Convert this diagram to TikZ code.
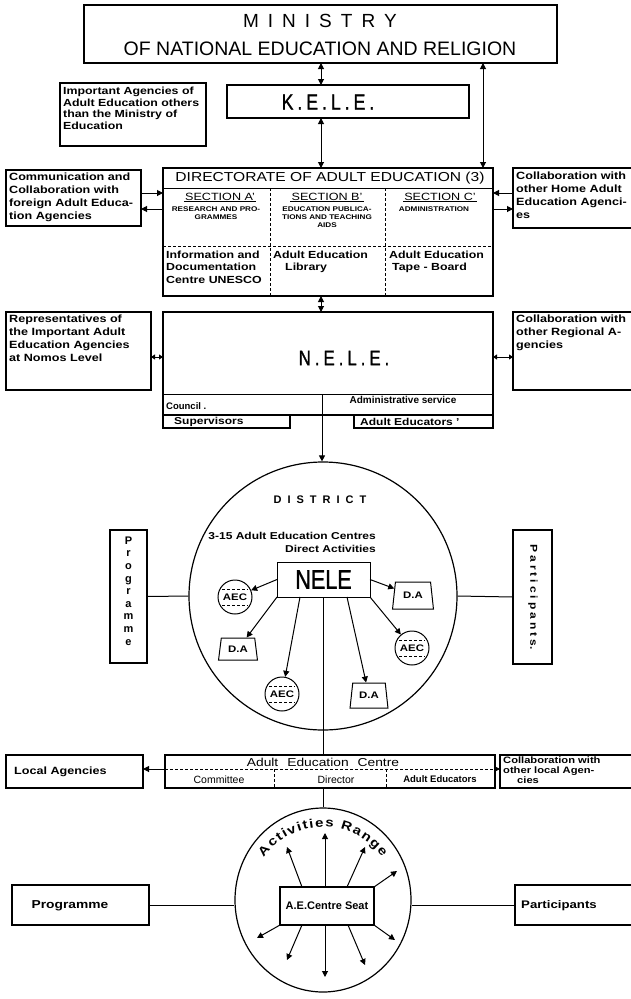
\documentclass[tikz,border=0pt]{standalone}
\usepackage{fontspec}
\setmainfont{Liberation Sans}
\newfontfamily\widefont{Liberation Sans}[FakeStretch=1.2]
\newfontfamily\narrowfont{Liberation Sans}[FakeStretch=0.75]
\newfontfamily\letterfont{Liberation Sans}[FakeStretch=0.8,FakeBold=1.2]
\usetikzlibrary{arrows.meta,shapes.geometric,decorations.text,calc}
\newcommand{\fsz}[2]{\fontsize{#1}{#2}\selectfont}
\newcommand{\kgap}{\hspace{9pt}}
\newcommand{\egap}{\hspace{4pt}}
\newcommand{\dgap}{\hspace{6pt}}
\newcommand{\pgap}{\hspace{3pt}}
\begin{document}
\begin{tikzpicture}[x=1pt,y=-1pt,
  box/.style={draw,line width=1.1pt,inner sep=0pt,outer sep=0pt},
  conn/.style={line width=1pt},
  tipr/.style={-{Triangle[length=6pt,width=6pt]}},
  tipb/.style={{Triangle[length=6pt,width=6pt]}-{Triangle[length=6pt,width=6pt]}},
  tips/.style={{Triangle[length=4pt,width=5pt]}-{Triangle[length=4pt,width=5pt]}},
  dsh/.style={dash pattern=on 3pt off 2pt,line width=0.8pt},
  lbl/.style={inner sep=0pt,anchor=north west,align=left,font=\widefont\bfseries\fsz{10.5}{13}},
  small/.style={font=\widefont\bfseries\fsz{6.8}{8},align=center,inner sep=0pt,anchor=north},
  aec/.style={draw,circle,line width=1pt,minimum size=34pt,inner sep=0pt,font=\widefont\bfseries\fsz{9.5}{10}},
  da/.style={draw,trapezium,trapezium left angle=76,trapezium right angle=76,trapezium stretches=true,line width=1pt,inner sep=0pt,font=\widefont\bfseries\fsz{9.5}{10}},
]
\path[use as bounding box] (0,0) rectangle (631,999);
\clip (0,0) rectangle (631,999);

% ---------- Ministry ----------
\node[box,minimum width=473pt,minimum height=58pt] (min) at (320.5,34) {};
\node[font=\fsz{19}{19}] (mt1) at (320,21) {M\kgap I\kgap N\kgap I\kgap S\kgap T\kgap R\kgap Y};
\node[font=\fsz{19.5}{19.5}] (mt2) at (320,49) {OF NATIONAL EDUCATION AND RELIGION};

% ---------- KELE ----------
\node[box,minimum width=242pt,minimum height=33pt] (kele) at (348,101.5) {};
\node[font=\letterfont\fsz{22}{22}] (kelet) at (328,102) {K\egap.\egap E\egap.\egap L\egap.\egap E\egap.};

% ---------- Important agencies ----------
\node[box,minimum width=146pt,minimum height=63pt] (imp) at (133,114.5) {};
\node[lbl,font=\widefont\bfseries\fsz{10.3}{11.5}] (impt) at (63,87) {Important Agencies of\\Adult Education others\\than the Ministry of\\Education};

% ---------- Directorate ----------
\node[box,minimum width=330pt,minimum height=128pt] (dir) at (328,232) {};
\node[font=\widefont\fsz{13}{13}] (dirt) at (330,178) {DIRECTORATE OF ADULT EDUCATION (3)};
\draw[line width=1pt] (dir.west |- 0,188) -- (dir.east |- 0,188);
\draw[dsh] (270,188) -- (270,296);
\draw[dsh] (385,188) -- (385,296);
\draw[dsh] (dir.west |- 0,246) -- (dir.east |- 0,246);
\node[font=\widefont\fsz{10.5}{10.5},inner sep=1pt] (sa) at (220,197) {SECTION A’};
\node[font=\widefont\fsz{10.5}{10.5},inner sep=1pt] (sb) at (327,197) {SECTION B’};
\node[font=\widefont\fsz{10.5}{10.5},inner sep=1pt] (sc) at (440,197) {SECTION C’};
\draw[line width=0.9pt] (sa.south west) -- (sa.south east);
\draw[line width=0.9pt] (sb.south west) -- (sb.south east);
\draw[line width=0.9pt] (sc.south west) -- (sc.south east);
\node[small] (sat) at (216,207) {RESEARCH AND PRO-\\GRAMMES};
\node[small] (sbt) at (327,207) {EDUCATION PUBLICA-\\TIONS AND TEACHING\\AIDS};
\node[small] (sct) at (434,207) {ADMINISTRATION};
\node[lbl,font=\widefont\bfseries\fsz{10.3}{12.3}] (la) at (166,251) {Information and\\Documentation\\Centre UNESCO};
\node[lbl,font=\widefont\bfseries\fsz{10.3}{12.3}] (lb) at (273,251) {Adult Education\\\hspace{12pt}Library};
\node[lbl,font=\widefont\bfseries\fsz{10.3}{12.3}] (lc) at (389,251) {Adult Education\\\hspace{3pt}Tape - Board};

% ---------- side boxes of directorate ----------
\node[box,minimum width=135pt,minimum height=56pt] (comm) at (73.5,198) {};
\node[lbl] (commt) at (9,173) {Communication and\\Collaboration with\\foreign Adult Educa-\\tion Agencies};
\node[box,minimum width=147pt,minimum height=60pt] (colh) at (586.5,198) {};
\node[lbl] (colht) at (516,172) {Collaboration with\\other Home Adult\\Education Agenci-\\es};

% ---------- NELE ----------
\node[box,minimum width=330pt,minimum height=103pt] (nele) at (328,363.5) {};
\node[font=\letterfont\fsz{21}{21}] (nelet) at (344,358) {N\egap.\egap E\egap.\egap L\egap.\egap E\egap.};
\draw[line width=1pt] (nele.west |- 0,394) -- (nele.east |- 0,394);
\node[font=\bfseries\fsz{9.5}{9.5},inner sep=0pt,anchor=west] (coun) at (166,406) {Council .};
\node[font=\bfseries\fsz{10}{10},inner sep=0pt] (adms) at (403,400) {Administrative service};
\node[box,minimum width=127pt,minimum height=13pt] (sup) at (226.5,421.5) {};
\node[font=\widefont\bfseries\fsz{10}{10},inner sep=0pt,anchor=west] (supt) at (174,421.5) {Supervisors};
\node[box,minimum width=139pt,minimum height=13pt] (ade) at (423.5,421.5) {};
\node[font=\widefont\bfseries\fsz{10}{10},inner sep=0pt,anchor=west] (adet) at (360,421.5) {Adult Educators ’};
\node[box,minimum width=145pt,minimum height=78pt] (rep) at (78.5,351) {};
\node[lbl] (rept) at (9,315) {Representatives of\\the Important Adult\\Education Agencies\\at Nomos Level};
\node[box,minimum width=147pt,minimum height=78pt] (reg) at (586.5,351) {};
\node[lbl] (regt) at (516,315) {Collaboration with\\other Regional A-\\gencies};

% ---------- District ----------
\node[draw,circle,line width=1.2pt,minimum size=268pt,inner sep=0pt] (dist) at (323,596) {};
\node[font=\bfseries\fsz{11}{11}] (distt) at (320,500) {D\dgap I\dgap S\dgap T\dgap R\dgap I\dgap C\dgap T};
\node[font=\widefont\bfseries\fsz{10}{13},align=right,inner sep=0pt,anchor=north east] (cent) at (376,532) {3-15 Adult Education Centres\\Direct Activities};
\node[box,line width=1pt,minimum width=93pt,minimum height=35pt,font=\letterfont\fsz{27}{27}] (nelei) at (323.5,579.5) {NELE};
\node[aec] (a1) at (235,597) {AEC};
\node[aec] (a2) at (282,694) {AEC};
\node[aec] (a3) at (412,648) {AEC};
\foreach \n in {a1,a2,a3}{
  \draw[dsh,line width=0.7pt] ($(\n)+(-13,-8)$) -- ($(\n)+(13,-8)$);
  \draw[dsh,line width=0.7pt] ($(\n)+(-13,8)$) -- ($(\n)+(13,8)$);
}
\node[da,minimum width=39pt,minimum height=22pt] (d1) at (238,649) {D.A};
\node[da,minimum width=41pt,minimum height=27pt] (d2) at (413,595.5) {D.A};
\node[da,minimum width=38pt,minimum height=25pt] (d3) at (369,695.5) {D.A};
\draw[conn,tipr] (nelei.west) -- (a1);
\draw[conn,tipr] (nelei.south west) -- (d1);
\draw[conn,tipr] ([xshift=23pt]nelei.south west) -- (a2);
\draw[conn,tipr] ([xshift=-23pt]nelei.south east) -- (d3);
\draw[conn,tipr] (nelei.south east) -- (a3);
\draw[conn,tipr] (nelei.east) -- (d2);

% Programme / Participants (district level)
\node[box,minimum width=37pt,minimum height=133pt] (prog) at (128.5,596.5) {};
\node[font=\bfseries\fsz{11}{12.6},align=center,inner sep=0pt] (progt) at (128.5,591) {P\\r\\o\\g\\r\\a\\m\\m\\e};
\node[box,minimum width=39pt,minimum height=134pt] (part) at (532.5,597) {};
\node[rotate=-90,font=\widefont\bfseries\fsz{10}{10},inner sep=0pt] (partt) at (533,597) {P\pgap a\pgap r\pgap t\pgap i\pgap c\pgap i\pgap p\pgap a\pgap n\pgap t\pgap s.};
\draw[conn] (prog.east) -- (dist.west);
\draw[conn] (dist.east) -- (part.west);

% ---------- Adult Education Centre ----------
\node[box,minimum width=330pt,minimum height=33pt] (aecb) at (330,771.5) {};
\node[font=\widefont\fsz{11.5}{11.5}] (aect) at (323,762) {Adult\hspace{9pt}Education\hspace{9pt}Centre};
\node[font=\fsz{10.5}{10.5},inner sep=0pt] (cmt) at (219,779.5) {Committee};
\node[font=\fsz{10.5}{10.5},inner sep=0pt] (drt) at (336,779.5) {Director};
\node[font=\bfseries\fsz{9.5}{9.5},inner sep=0pt] (aedt) at (440,779.5) {Adult Educators};
\draw[dsh] (274,769) -- (274,788);
\draw[dsh] (386,769) -- (386,788);
\node[box,minimum width=137pt,minimum height=33pt] (loc) at (74.5,771.5) {};
\node[font=\widefont\bfseries\fsz{10.5}{10.5},inner sep=0pt,anchor=west] (loct) at (14,772) {Local Agencies};
\node[box,minimum width=160pt,minimum height=33pt] (coll) at (580,771.5) {};
\node[lbl,font=\widefont\bfseries\fsz{9.3}{9.6}] (collt) at (503,757) {Collaboration with\\other local Agen-\\\hspace{14pt}cies};
\coordinate (ydl) at (0,769);
\draw[conn,tipr] (aecb.west |- ydl) -- (loc.east |- ydl);
\draw[dsh,-{Triangle[length=6pt,width=6pt]}] (aecb.west |- ydl) -- (coll.west |- ydl);

\draw[conn] (nelei.south) -- (nelei.south |- aecb.north);

% ---------- Activities range ----------
\node[draw,ellipse,line width=1.2pt,minimum width=176pt,minimum height=184pt,inner sep=0pt] (ell) at (323,900) {};
\path[decorate,decoration={text effects along path,text={Activities Range},text align=center,
  text effects/.cd,text along path,
  characters={font=\widefont\bfseries\fsz{12.5}{12.5},inner xsep=0.7pt,inner ysep=0pt}}]
  ($(ell.center)+(165:73pt)$) arc[start angle=165,end angle=15,radius=73pt];
\draw[conn] (aecb.south -| ell.north) -- (ell.north);
\node[box,minimum width=94pt,minimum height=38pt,font=\bfseries\fsz{11}{11}] (seat) at (327,906) {A.E.Centre Seat};
\node[box,minimum width=137pt,minimum height=40pt] (progb) at (80.5,905) {};
\node[font=\widefont\bfseries\fsz{11.5}{11.5},inner sep=0pt] (progbt) at (70,906) {Programme};
\node[box,minimum width=145pt,minimum height=40pt] (partb) at (587.5,905) {};
\node[font=\widefont\bfseries\fsz{11}{11},inner sep=0pt,anchor=west] (partbt) at (521,906) {Participants};
\draw[conn] (progb.east) -- (progb.east -| ell.west);
\draw[conn] (partb.west -| ell.east) -- (partb.west);

\coordinate (e1) at (287,847);
\coordinate (e2) at (325,833);
\coordinate (e3) at (365,847);
\coordinate (e4) at (397,871);
\coordinate (e5) at (395,940);
\coordinate (e6) at (365,965);
\coordinate (e7) at (325,977);
\coordinate (e8) at (287,960);
\coordinate (e9) at (257,938);
\draw[conn,tipr] ([xshift=22pt]seat.north west) -- (e1);
\draw[conn,tipr] ([xshift=-2pt]seat.north) -- (e2);
\draw[conn,tipr] ([xshift=-27pt]seat.north east) -- (e3);
\draw[conn,tipr] (seat.north east) -- (e4);
\draw[conn,tipr] (seat.south east) -- (e5);
\draw[conn,tipr] ([xshift=-26pt]seat.south east) -- (e6);
\draw[conn,tipr] ([xshift=-2pt]seat.south) -- (e7);
\draw[conn,tipr] ([xshift=22pt]seat.south west) -- (e8);
\draw[conn,tipr] (seat.south west) -- (e9);

% ---------- top connectors ----------
\coordinate (ax) at (321,0);
\coordinate (rx) at (483,0);
\draw[conn,tipb] (min.south -| ax) -- (kele.north -| ax);
\draw[conn,tipb] (kele.south -| ax) -- (dir.north -| ax);
\draw[conn,tipb] (min.south -| rx) -- (dir.north -| rx);
\coordinate (y1) at (0,193);
\coordinate (y2) at (0,209);
\draw[conn,tipr] (comm.east |- y1) -- (dir.west |- y1);
\draw[conn,tipr] (dir.west |- y2) -- (comm.east |- y2);
\draw[conn,tipr] (colh.west |- y1) -- (dir.east |- y1);
\draw[conn,tipr] (dir.east |- y2) -- (colh.west |- y2);
\draw[conn,tipb] (dir.south -| ax) -- (nele.north -| ax);
\coordinate (yn) at (0,357);
\draw[conn,tips] (rep.east |- yn) -- (nele.west |- yn);
\draw[conn,tips] (nele.east |- yn) -- (reg.west |- yn);
\coordinate (ndv) at (322,394);
\draw[conn,tipr] (ndv) -- (ndv |- dist.north);
\end{tikzpicture}
\end{document}
